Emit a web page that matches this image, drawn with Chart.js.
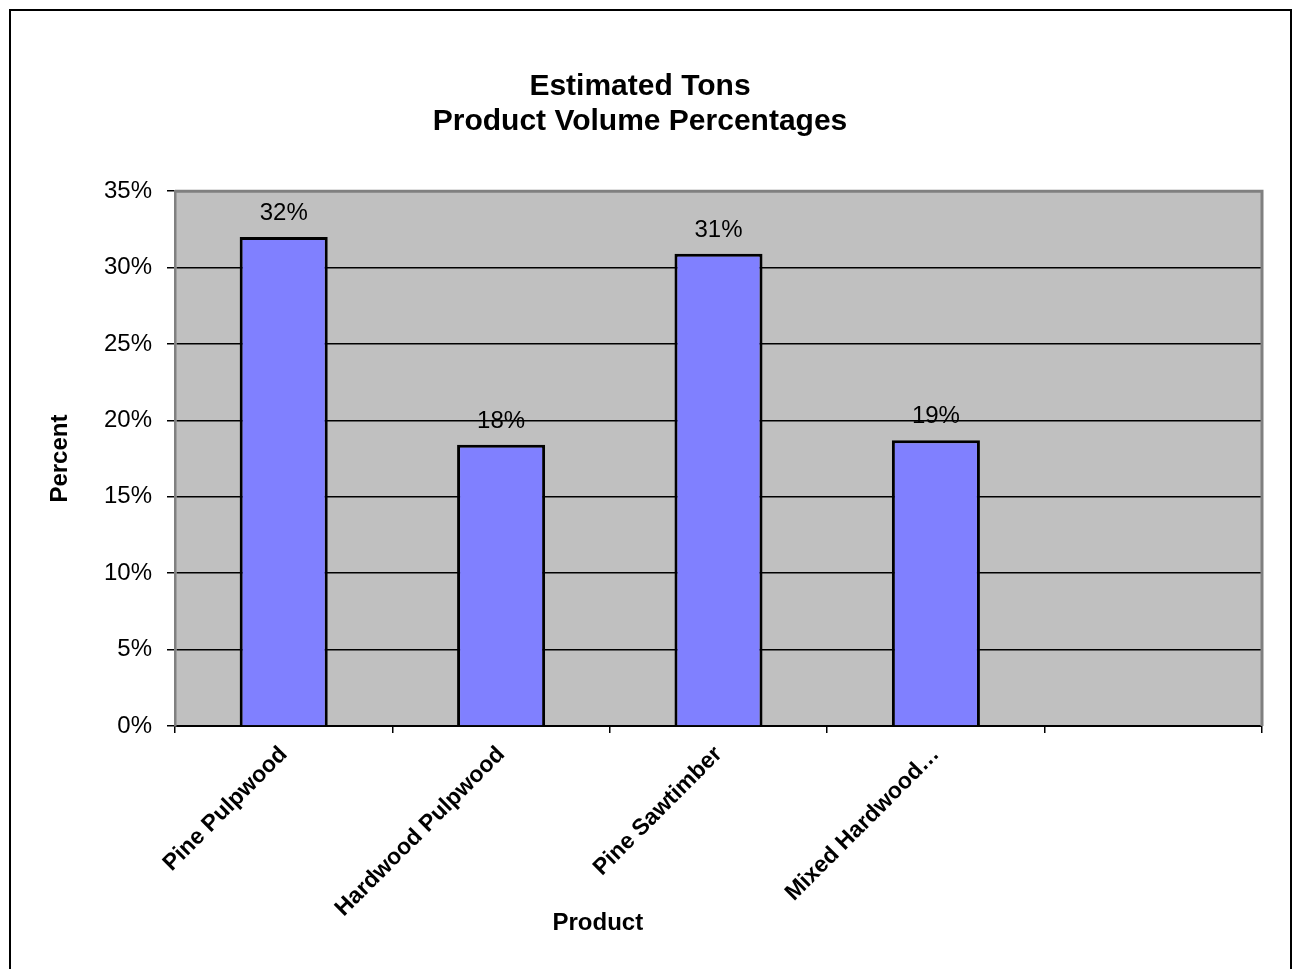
<!DOCTYPE html>
<html>
<head>
<meta charset="utf-8">
<script src="https://cdn.jsdelivr.net/npm/chart.js@4.4.0/dist/chart.umd.min.js"></script>
<style>
    body { margin: 0; background: #fff; }
    #frame { position: absolute; left: 9px; top: 9px; width: 1279px; height: 1000px;
             border: 2.5px solid #000; border-bottom: none; pointer-events: none; }
    #chart1 { position: absolute; left: 0; top: 0; }
</style>
</head>
<body>
<canvas id="chart1" width="1292" height="969"></canvas>
<div id="frame"></div>
<script>
// chart data
let products = ['Pine Pulpwood', 'Hardwood Pulpwood', 'Pine Sawtimber', 'Mixed Hardwood\u2026', ''];
let percents = [32.0, 18.4, 30.9, 18.7, null];
let yTicks = [0, 5, 10, 15, 20, 25, 30, 35];

Chart.defaults.font.family = '"Liberation Sans", Arial, sans-serif';
Chart.defaults.color = '#000';

// grey plot area behind the bars
let plotBack = {
    id: 'plotBack',
    beforeDraw: function (chart) {
        let a = chart.chartArea, c = chart.ctx;
        c.save();
        c.fillStyle = '#c0c0c0';
        c.fillRect(a.left, a.top, a.right - a.left, a.bottom - a.top);
        c.restore();
    },
    afterDraw: function (chart) {
        let a = chart.chartArea, c = chart.ctx;
        c.save();
        c.strokeStyle = '#808080';
        c.lineWidth = 3;
        c.beginPath();
        c.moveTo(a.left, a.top);
        c.lineTo(a.right, a.top);
        c.lineTo(a.right, a.bottom);
        c.stroke();
        c.restore();
    }
};

// value labels above bars + x axis title
let barLabels = {
    id: 'barLabels',
    afterDatasetsDraw: function (chart) {
        let c = chart.ctx;
        let meta = chart.getDatasetMeta(0);
        c.save();
        c.font = '24px "Liberation Sans", Arial, sans-serif';
        c.fillStyle = '#000';
        c.textAlign = 'center';
        c.textBaseline = 'alphabetic';
        meta.data.forEach(function (bar, i) {
            let v = percents[i];
            if (v === null) return;
            c.fillText(Math.round(v) + '%', bar.x, bar.y - 17);
        });
        let a = chart.chartArea;
        c.font = 'bold 24px "Liberation Sans", Arial, sans-serif';
        c.textBaseline = 'middle';
        c.fillText('Product', a.left + (a.right - a.left) * 0.389, 923);
        c.restore();
    }
};

let chart1 = document.getElementById('chart1').getContext('2d');

let barChart = new Chart(chart1, {
    type: 'bar',
    data: {
        labels: products,
        datasets: [{
            label: 'Percent',
            data: percents,
            backgroundColor: '#8080ff',
            borderColor: '#000',
            borderWidth: 3,
            categoryPercentage: 1,
            barPercentage: 0.405
        }]
    },
    options: {
        responsive: false,
        animation: false,
        layout: { padding: { left: 18, right: 30, top: 0, bottom: 0 } },
        plugins: {
            legend: { display: false },
            tooltip: { enabled: false },
            title: {
                display: true,
                text: ['Estimated Tons', 'Product Volume Percentages'],
                font: { size: 30, weight: 'bold', lineHeight: 1.17 },
                color: '#000',
                padding: { top: 69, bottom: 52 }
            }
        },
        scales: {
            x: {
                offset: true,
                grid: { display: true, drawOnChartArea: false, drawTicks: true, tickLength: 7, color: '#000', lineWidth: 1.5, offset: true },
                border: { display: true, color: '#000', width: 2 },
                ticks: { autoSkip: false, maxRotation: 45, minRotation: 45, padding: 8, font: { size: 23, weight: 'bold' }, color: '#000' },
                afterFit: function (s) { s.height = 969 - 726; }
            },
            y: {
                min: 0,
                max: 35,
                afterBuildTicks: function (s) { s.ticks = yTicks.map(function (v) { return { value: v }; }); },
                grid: { color: '#000', lineWidth: 1.5, tickLength: 8 },
                border: { display: true, color: '#808080', width: 2.5 },
                ticks: { padding: 15, font: { size: 24 }, color: '#000', callback: function (v) { return v + '%'; } },
                title: { display: true, text: 'Percent', font: { size: 24, weight: 'bold' }, color: '#000', padding: { top: 28, bottom: 0 } },
                afterFit: function (s) { s.width = 157; }
            }
        }
    },
    plugins: [plotBack, barLabels]
});
</script>
</body>
</html>
